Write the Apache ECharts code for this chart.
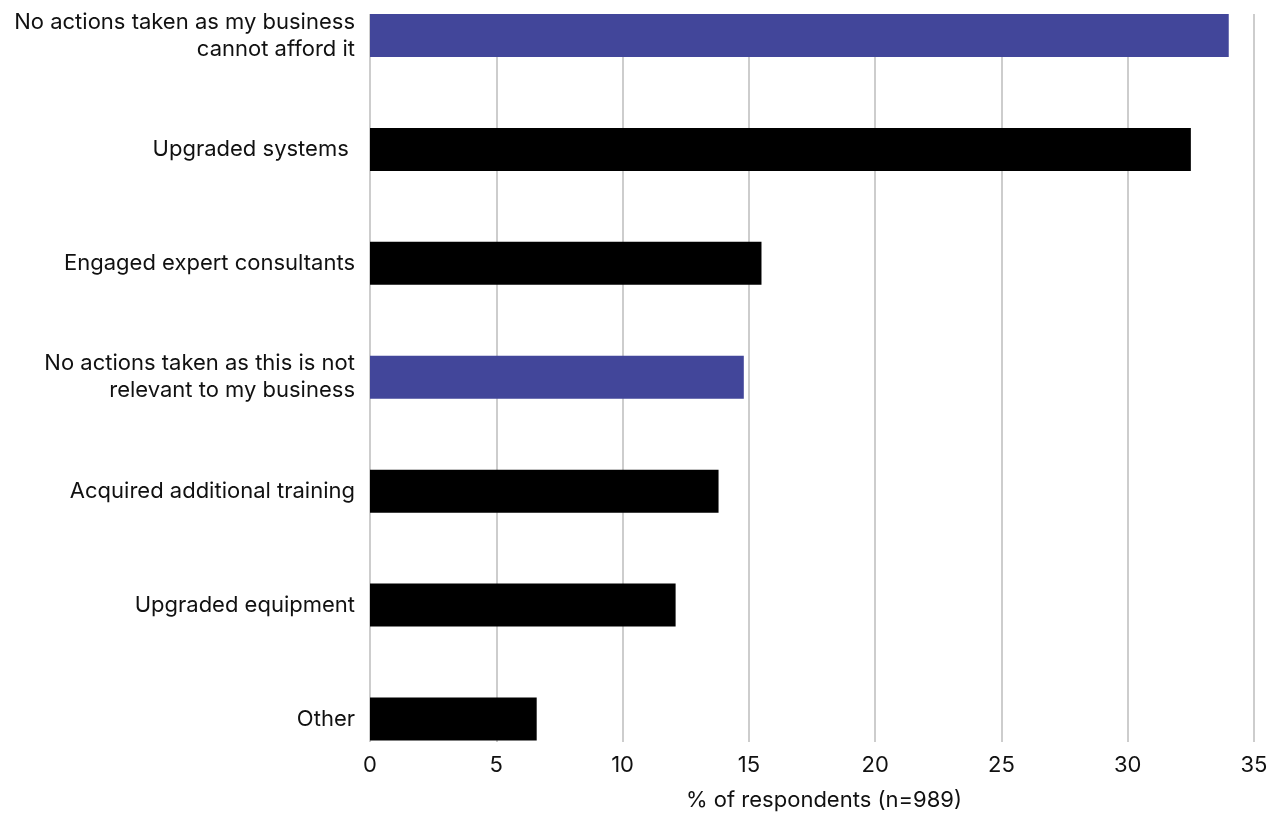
<!DOCTYPE html>
<html>
<head>
<meta charset="utf-8">
<script src="https://cdn.jsdelivr.net/npm/echarts@6/dist/echarts.min.js"></script>
<style>
html,body{margin:0;padding:0;background:#fff;}
#chart{width:1269px;height:814px;}
</style>
</head>
<body>
<div id="chart"></div>
<script>
const categories = [
  "No actions taken as my business\ncannot afford it",
  "Upgraded systems ",
  "Engaged expert consultants",
  "No actions taken as this is not\nrelevant to my business",
  "Acquired additional training",
  "Upgraded equipment",
  "Other"
];
const values = [34.0, 32.5, 15.5, 14.8, 13.8, 12.1, 6.6];
const highlighted = [true, false, false, true, false, false, false];
const xTicks = [0, 5, 10, 15, 20, 25, 30, 35];
const axisTitle = "% of respondents (n=989)";

const PURPLE = "#42469a";
const BLACK = "#000000";
const FONT = "Inter";
const TEXT = "#111111";

const chart = echarts.init(document.getElementById('chart'), null, {renderer: 'canvas'});
const xMin = xTicks[0], xMax = xTicks[xTicks.length - 1], xStep = xTicks[1] - xTicks[0];

chart.setOption({
  backgroundColor: '#ffffff',
  animation: false,
  grid: [
    {left: 370, right: 15, top: -21.5, height: 797.5, outerBoundsMode: 'none', containLabel: false},
    {left: 370, right: 15, top: 14, bottom: 72, outerBoundsMode: 'none', containLabel: false}
  ],
  xAxis: [
    {gridIndex: 0, type: 'value', min: xMin, max: xMax, interval: xStep, show: false},
    {
      gridIndex: 1, type: 'value', min: xMin, max: xMax, interval: xStep,
      axisLine: {show: false}, axisTick: {show: false},
      splitLine: {show: true, lineStyle: {color: '#bdbdbd', width: 1.5}},
      axisLabel: {color: TEXT, fontFamily: FONT, fontSize: 22, margin: 12},
      name: axisTitle, nameLocation: 'middle', nameGap: 47,
      nameTextStyle: {color: TEXT, fontFamily: FONT, fontSize: 22, padding: [0, 0, 0, 24]}
    }
  ],
  yAxis: [
    {
      gridIndex: 0, type: 'category', data: categories, inverse: true,
      axisLine: {show: false}, axisTick: {show: false}, splitLine: {show: false},
      axisLabel: {color: TEXT, fontFamily: FONT, fontSize: 22, margin: 15, lineHeight: 27, align: 'right'}
    },
    {gridIndex: 1, type: 'value', show: false}
  ],
  series: [{
    type: 'bar',
    xAxisIndex: 0, yAxisIndex: 0,
    barWidth: 43,
    data: values.map((v, i) => ({value: v, itemStyle: {color: highlighted[i] ? PURPLE : BLACK}})),
    z: 3
  }]
});
</script>
</body>
</html>
